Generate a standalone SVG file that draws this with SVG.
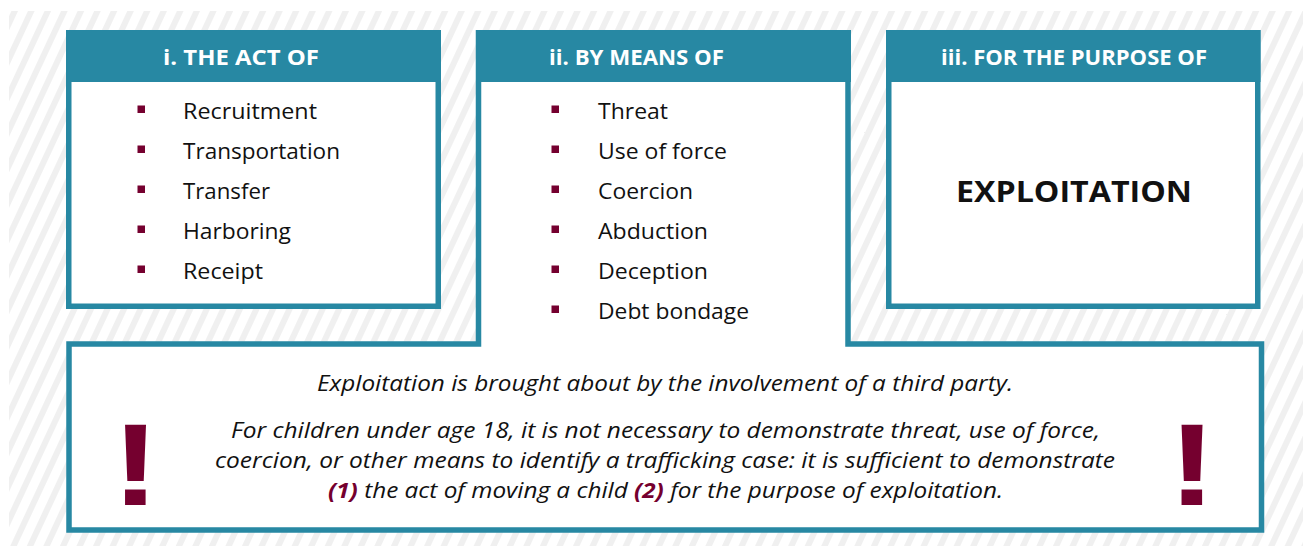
<svg xmlns="http://www.w3.org/2000/svg" width="1303" height="546" viewBox="0 0 1303 546">
<defs>
<pattern id="hatch" width="15" height="15" patternUnits="userSpaceOnUse" patternTransform="rotate(25)">
<rect width="15" height="15" fill="#ffffff"/>
<rect x="0" y="0" width="6" height="15" fill="#f0f0f0"/>
</pattern>
<style>
.hdr{fill:#2788a3}
.box{fill:#ffffff;stroke:#2788a3;stroke-width:5.5}
.ht{font-family:"Open Sans",Lato,sans-serif;font-weight:bold;font-size:21px;fill:#ffffff}
.li{font-family:"Open Sans",Lato,sans-serif;font-size:21px;fill:#111111}
.bul{fill:#75002f}
.it{font-family:"Open Sans",Lato,sans-serif;font-style:italic;font-size:21.5px;fill:#111111}
.num{font-weight:bold;fill:#75002f}
.ex{font-family:"Liberation Sans",Arial,sans-serif;font-weight:bold;font-size:117px;fill:#75002f;text-anchor:middle}
</style>
</defs>
<rect x="9" y="11" width="1294" height="535" fill="url(#hatch)"/>

<g id="node-act">
<rect class="box" x="68.75" y="32.75" width="369.5" height="273.5"/>
<rect class="hdr" x="66" y="30" width="375" height="52"/>
<text class="ht" x="163" y="65" textLength="156" lengthAdjust="spacingAndGlyphs">i. THE ACT OF</text>
<rect class="bul" x="137.5" y="105.5" width="7.5" height="7.5"/>
<rect class="bul" x="137.5" y="145.5" width="7.5" height="7.5"/>
<rect class="bul" x="137.5" y="185.5" width="7.5" height="7.5"/>
<rect class="bul" x="137.5" y="225.5" width="7.5" height="7.5"/>
<rect class="bul" x="137.5" y="265.5" width="7.5" height="7.5"/>
<text class="li" x="183" y="118.5" textLength="134" lengthAdjust="spacingAndGlyphs">Recruitment</text>
<text class="li" x="183" y="158.5" textLength="157" lengthAdjust="spacingAndGlyphs">Transportation</text>
<text class="li" x="183" y="198.5" textLength="87" lengthAdjust="spacingAndGlyphs">Transfer</text>
<text class="li" x="183" y="238.5" textLength="108" lengthAdjust="spacingAndGlyphs">Harboring</text>
<text class="li" x="183" y="278.5" textLength="80" lengthAdjust="spacingAndGlyphs">Receipt</text>
</g>

<g id="node-means-and-note">
<rect fill="#ffffff" x="69" y="344" width="1192.5" height="186"/>
<rect fill="#ffffff" x="478.5" y="32" width="369.5" height="315"/>
<path d="M478.5 30 V344 H69 V530 H1261.5 V344 H848 V30" fill="none" stroke="#2788a3" stroke-width="5.5"/>
<rect class="hdr" x="476" y="30" width="375" height="52"/>
<text class="ht" x="549" y="65" textLength="175" lengthAdjust="spacingAndGlyphs">ii. BY MEANS OF</text>
<rect class="bul" x="551.5" y="105.5" width="7.5" height="7.5"/>
<rect class="bul" x="551.5" y="145.5" width="7.5" height="7.5"/>
<rect class="bul" x="551.5" y="185.5" width="7.5" height="7.5"/>
<rect class="bul" x="551.5" y="225.5" width="7.5" height="7.5"/>
<rect class="bul" x="551.5" y="265.5" width="7.5" height="7.5"/>
<rect class="bul" x="551.5" y="305.5" width="7.5" height="7.5"/>
<text class="li" x="598" y="118.5" textLength="70" lengthAdjust="spacingAndGlyphs">Threat</text>
<text class="li" x="598" y="158.5" textLength="129" lengthAdjust="spacingAndGlyphs">Use of force</text>
<text class="li" x="598" y="198.5" textLength="95" lengthAdjust="spacingAndGlyphs">Coercion</text>
<text class="li" x="598" y="238.5" textLength="110" lengthAdjust="spacingAndGlyphs">Abduction</text>
<text class="li" x="598" y="278.5" textLength="110" lengthAdjust="spacingAndGlyphs">Deception</text>
<text class="li" x="598" y="318.5" textLength="151" lengthAdjust="spacingAndGlyphs">Debt bondage</text>
<text class="it" x="317" y="391" textLength="696" lengthAdjust="spacingAndGlyphs">Exploitation is brought about by the involvement of a third party.</text>
<text class="it" x="231" y="438" textLength="869" lengthAdjust="spacingAndGlyphs">For children under age 18, it is not necessary to demonstrate threat, use of force,</text>
<text class="it" x="215" y="468" textLength="900" lengthAdjust="spacingAndGlyphs">coercion, or other means to identify a trafficking case: it is sufficient to demonstrate</text>
<text class="it" x="328" y="498" textLength="675" lengthAdjust="spacingAndGlyphs"><tspan class="num">(1)</tspan> the act of moving a child <tspan class="num">(2)</tspan> for the purpose of exploitation.</text>
<text class="ex" transform="translate(135.5 505) scale(1.25 1)">!</text>
<text class="ex" transform="translate(1192 505) scale(1.25 1)">!</text>
</g>

<g id="node-purpose">
<rect class="box" x="888.75" y="32.75" width="369" height="273.5"/>
<rect class="hdr" x="886" y="30" width="374.5" height="52"/>
<text class="ht" x="941" y="65" textLength="266" lengthAdjust="spacingAndGlyphs">iii. FOR THE PURPOSE OF</text>
<text x="956" y="202" font-family="'Open Sans',Lato,sans-serif" font-weight="bold" font-size="29" fill="#111111" textLength="236" lengthAdjust="spacingAndGlyphs">EXPLOITATION</text>
</g>

<g id="connectors"></g>
</svg>
